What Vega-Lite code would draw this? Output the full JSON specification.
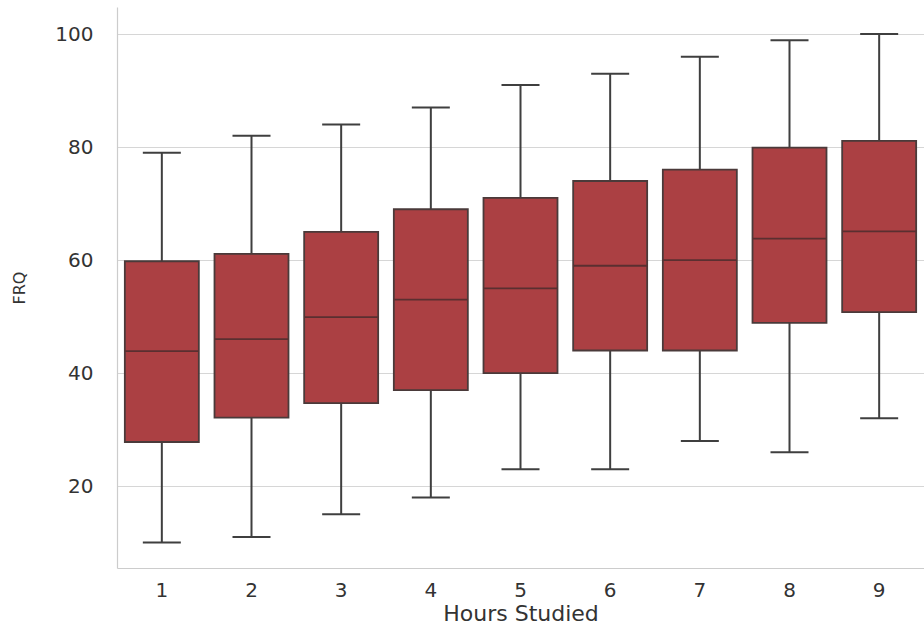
{
  "$schema": "https://vega.github.io/schema/vega-lite/v6.json",
  "autosize": "none",
  "padding": {"left": 117, "top": 7, "right": 0, "bottom": 63},
  "width": 807,
  "height": 561,
  "background": "#ffffff",
  "data": {"values": [
    {"hours": "1", "low": 10, "q1": 27.8, "median": 43.9, "q3": 59.8, "high": 79},
    {"hours": "2", "low": 11, "q1": 32.1, "median": 46.0, "q3": 61.1, "high": 82},
    {"hours": "3", "low": 15, "q1": 34.7, "median": 49.9, "q3": 65, "high": 84},
    {"hours": "4", "low": 18, "q1": 37, "median": 53, "q3": 69, "high": 87},
    {"hours": "5", "low": 23, "q1": 40, "median": 55, "q3": 71, "high": 91},
    {"hours": "6", "low": 23, "q1": 44, "median": 59, "q3": 74, "high": 93},
    {"hours": "7", "low": 28, "q1": 44, "median": 60, "q3": 76, "high": 96},
    {"hours": "8", "low": 26, "q1": 48.9, "median": 63.8, "q3": 79.9, "high": 98.9},
    {"hours": "9", "low": 32, "q1": 50.8, "median": 65.1, "q3": 81.1, "high": 100}
  ]},
  "encoding": {
    "x": {
      "field": "hours", "type": "ordinal", "title": "Hours Studied",
      "scale": {"paddingInner": 0, "paddingOuter": 0},
      "axis": {"labelAngle": 0, "grid": false, "ticks": false, "labelPadding": 12, "titlePadding": 3, "titleFontSize": 22, "labelFontSize": 20}
    }
  },
  "layer": [
    {
      "mark": {"type": "rule", "color": "#3f3f3f", "strokeWidth": 2},
      "encoding": {
        "y": {"field": "low", "type": "quantitative", "title": "FRQ",
          "scale": {"domain": [5.5, 104.8], "nice": false, "zero": false},
          "axis": {"values": [20, 40, 60, 80, 100], "ticks": false, "grid": true, "labelPadding": 24, "titlePadding": 27, "titleFontSize": 16, "labelFontSize": 20}},
        "y2": {"field": "high"}
      }
    },
    {
      "mark": {"type": "tick", "color": "#3f3f3f", "thickness": 2, "size": 38, "opacity": 1},
      "encoding": {"y": {"field": "low", "type": "quantitative"}}
    },
    {
      "mark": {"type": "tick", "color": "#3f3f3f", "thickness": 2, "size": 38, "opacity": 1},
      "encoding": {"y": {"field": "high", "type": "quantitative"}}
    },
    {
      "mark": {"type": "bar", "fill": "#ab4043", "stroke": "#4a3a3a", "strokeWidth": 1.8, "size": 74, "opacity": 1},
      "encoding": {
        "y": {"field": "q1", "type": "quantitative"},
        "y2": {"field": "q3"}
      }
    },
    {
      "mark": {"type": "tick", "color": "#5a2f30", "thickness": 1.8, "size": 74, "opacity": 1},
      "encoding": {"y": {"field": "median", "type": "quantitative"}}
    }
  ],
  "config": {
    "view": {"stroke": null},
    "font": "DejaVu Sans",
    "axis": {
      "domainColor": "#cccccc",
      "domainWidth": 1.2,
      "gridColor": "#d6d6d6",
      "gridWidth": 1,
      "labelColor": "#333333",
      "titleColor": "#333333",
      "labelFont": "DejaVu Sans",
      "titleFont": "DejaVu Sans",
      "titleFontWeight": "normal"
    }
  }
}
